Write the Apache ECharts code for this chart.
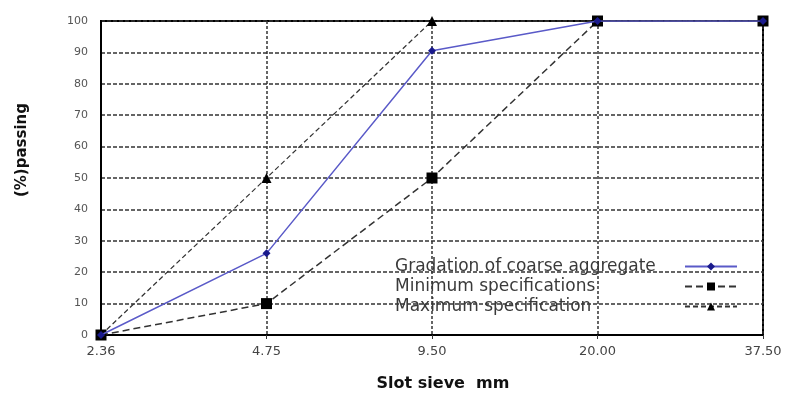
<!DOCTYPE html>
<html><head><meta charset="utf-8">
<script src="https://cdn.jsdelivr.net/npm/echarts@6/dist/echarts.min.js"></script>
<style>html,body{margin:0;padding:0;background:#fff}#c{width:787px;height:396px}</style>
</head><body><div id="c"></div>
<script>
var categories = ['2.36', '4.75', '9.50', '20.00', '37.50'];
var gradation = [0, 26, 90.5, 100, 100];
var minSpec = [0, 10, 50, 100, 100];
var maxSpec = [0, 50, 100, 100, 100];
var yTicks = [0, 10, 20, 30, 40, 50, 60, 70, 80, 90, 100];

var FONT = 'DejaVu Sans, Verdana, sans-serif';
var chart = echarts.init(document.getElementById('c'));
chart.setOption({
  animation: false,
  backgroundColor: '#fff',
  grid: {left: 101, right: 24, top: 21, bottom: 61, show: true, borderColor: '#000', borderWidth: 2,
    outerBoundsMode: 'none', containLabel: false},
  legend: {
    orient: 'vertical', left: 390, top: 253, align: 'right', itemGap: 3,
    itemWidth: 52, itemHeight: 10,
    formatter: function (n) { return '{t|' + n + '}'; },
    textStyle: {
      fontFamily: FONT, fontSize: 17, color: '#3a3a3a',
      rich: {t: {fontFamily: FONT, fontSize: 17, color: '#3a3a3a', width: 285, height: 18, align: 'left'}}
    },
    data: ['Gradation of coarse aggregate', 'Minimum specifications', 'Maximum specification']
  },
  xAxis: {
    type: 'category', data: categories, boundaryGap: false,
    name: 'Slot sieve  mm', nameLocation: 'middle', nameGap: 41,
    nameTextStyle: {fontFamily: FONT, fontWeight: 'bold', fontSize: 16, color: '#111', padding: [0, 0, 0, 22]},
    axisLine: {lineStyle: {color: '#000', width: 2}},
    axisTick: {show: true, inside: false, length: 4, lineStyle: {color: '#333'}},
    axisLabel: {fontFamily: FONT, fontSize: 13, color: '#444', margin: 10},
    splitLine: {show: true, lineStyle: {color: '#333', type: [3, 2], width: 1.5}}
  },
  yAxis: {
    type: 'value', min: 0, max: 100, interval: 10,
    axisLine: {show: true, lineStyle: {color: '#000', width: 2}},
    axisTick: {show: false},
    axisLabel: {fontFamily: FONT, fontSize: 11, color: '#555', margin: 13,
      formatter: function (v) { return yTicks.indexOf(v) >= 0 ? String(v) : ''; }},
    splitLine: {show: true, lineStyle: {color: '#333', type: [4, 2], width: 1.5}}
  },
  graphic: [{
    type: 'text', left: 15, top: 103, rotation: Math.PI / 2,
    style: {text: '(%)passing', fontFamily: FONT, fontWeight: 'bold', fontSize: 15, fill: '#111'}
  }],
  series: [
    {
      name: 'Maximum specification', type: 'line', data: maxSpec,
      symbol: 'triangle', symbolSize: 10, z: 3,
      itemStyle: {color: '#000'},
      lineStyle: {color: '#333', width: 1.2, type: [5, 3]}
    },
    {
      name: 'Minimum specifications', type: 'line', data: minSpec,
      symbol: 'rect', symbolSize: 11, z: 4,
      itemStyle: {color: '#000'},
      lineStyle: {color: '#333', width: 1.5, type: [7, 4]}
    },
    {
      name: 'Gradation of coarse aggregate', type: 'line', data: gradation,
      symbol: 'diamond', symbolSize: 8, z: 5,
      itemStyle: {color: '#1a1a8c'},
      lineStyle: {color: '#5a5ac8', width: 1.5}
    }
  ]
});
</script></body></html>
